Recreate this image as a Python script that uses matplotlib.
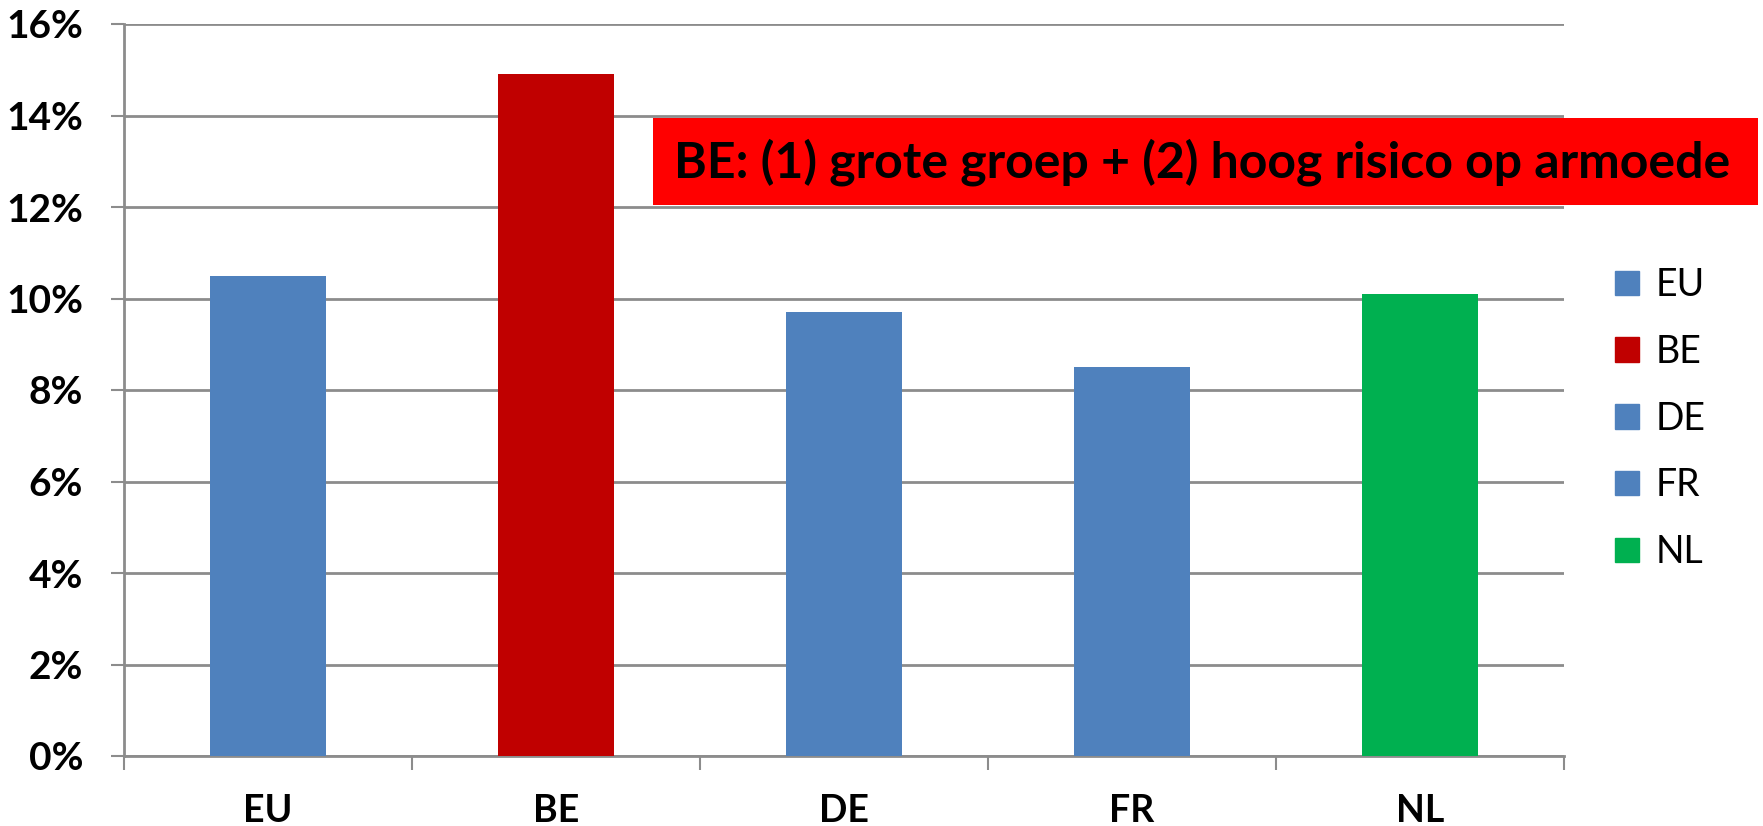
import numpy as np
import matplotlib
matplotlib.use("Agg")
import matplotlib.pyplot as plt
from matplotlib.patches import Patch, Rectangle
from matplotlib.ticker import FuncFormatter, MultipleLocator

countries = ["EU", "BE", "DE", "FR", "NL"]
shares = [10.5, 14.9, 9.7, 8.5, 10.1]
colours = ["#4F81BD", "#C00000", "#4F81BD", "#4F81BD", "#00B050"]
note = "BE: (1) grote groep + (2) hoog risico op armoede"

W, H = 1763, 826
plt.rcParams["font.family"] = ["Lato", "DejaVu Sans"]

fig = plt.figure(figsize=(W / 100, H / 100), dpi=100)
ax = fig.add_axes([124 / W, 1 - 756 / H, 1440 / W, 732 / H])

x = np.arange(len(countries))
ax.bar(x, shares, width=0.4, color=colours, zorder=3)

ax.set_xlim(-0.5, len(countries) - 0.5)
ax.set_ylim(0, 16)
ax.yaxis.set_major_locator(MultipleLocator(2))
ax.yaxis.set_major_formatter(FuncFormatter(lambda v, p: f"{v:.0f}%"))
ax.grid(axis="y", color="#8c8c8c", linewidth=2, zorder=0)

grey = "#8c8c8c"
for s in ["top", "right"]:
    ax.spines[s].set_visible(False)
for s in ["left", "bottom"]:
    ax.spines[s].set_color(grey)
    ax.spines[s].set_linewidth(2)

ax.set_xticks(x)
ax.set_xticklabels(countries, fontsize=27, fontweight="bold")
ax.set_xticks(np.arange(-0.5, len(countries)), minor=True)
ax.tick_params(axis="x", which="major", length=0, pad=27)
ax.tick_params(axis="x", which="minor", length=10, width=1.5, color=grey)
ax.tick_params(axis="y", length=9.5, width=1.5, color=grey, labelsize=28, pad=20)
for lab in ax.get_yticklabels():
    lab.set_fontweight("bold")

handles = [Patch(color=c, label=n) for c, n in zip(colours, countries)]
fig.legend(handles=handles, loc="upper left", bbox_to_anchor=(1600 / W, 1 - 252 / H),
           frameon=False, fontsize=27, handlelength=0.63, handleheight=0.63,
           handletextpad=0.45, labelspacing=0.82, borderaxespad=0)

fig.patches.append(Rectangle((653 / W, 1 - 205 / H), 1105 / W, 87 / H,
                             transform=fig.transFigure, facecolor="#FF0000",
                             edgecolor="none", zorder=5))
fig.text(1202 / W, 1 - 162 / H, note, ha="center", va="center",
         fontsize=36, fontweight="bold", color="black", zorder=6)

fig.savefig("out.png", dpi=100)
